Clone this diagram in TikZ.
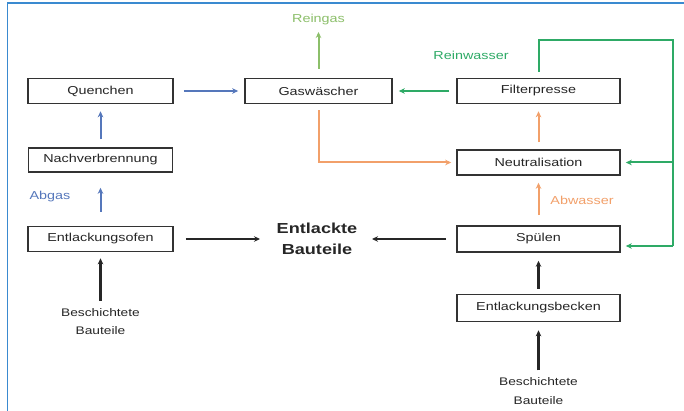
\documentclass[tikz,border=0pt]{standalone}
\usepackage{fontspec}
\setmainfont{Liberation Sans}
\newfontfamily\widesans[FakeStretch=1.25]{Liberation Sans}
\usetikzlibrary{arrows.meta}
\definecolor{frameblue}{HTML}{3A8AD0}
\definecolor{gasblue}{HTML}{5577BB}
\definecolor{wgreen}{HTML}{2EAA66}
\definecolor{rgreen}{HTML}{8CBF6A}
\definecolor{worange}{HTML}{F2A06A}
\definecolor{boxgray}{HTML}{333333}
\tikzset{
  procbox/.style={draw=boxgray, line width=1.6pt, fill=white, inner sep=0pt, font=\widesans\fontsize{11.5}{13}\selectfont, text=black!85},
  flow/.style={line width=2pt, -{Stealth[length=6pt,width=5.5pt]}},
  blk/.style={flow, black!85, line width=2.4pt},
  lbl/.style={font=\widesans\fontsize{11.5}{13}\selectfont, inner sep=0pt},
}
\begin{document}
\begin{tikzpicture}[x=1pt,y=-1pt]
\useasboundingbox (0,0) rectangle (684,411);
\fill[white] (0,0) rectangle (684,411);
\draw[frameblue, line width=1.6pt] (7.5,411) -- (7.5,3) -- (684,3);

% boxes
\node[procbox, minimum width=145pt, minimum height=25pt] (Q) at (100.5,91) {Quenchen};
\node[procbox, minimum width=144pt, minimum height=24pt] (N) at (100.5,160) {Nachverbrennung};
\node[procbox, minimum width=145pt, minimum height=25pt] (O) at (100.5,239) {Entlackungsofen};
\node[procbox, minimum width=147pt, minimum height=25pt] (G) at (318.5,91) {Gaswäscher};
\node[procbox, minimum width=163pt, minimum height=25pt] (F) at (538.5,91) {Filterpresse};
\node[procbox, minimum width=163pt, minimum height=25pt] (Ne) at (538.5,162.5) {Neutralisation};
\node[procbox, minimum width=163pt, minimum height=26pt] (S) at (538.5,239) {Spülen};
\node[procbox, minimum width=163pt, minimum height=27pt] (B) at (538.5,308) {Entlackungsbecken};

\node[align=center, font=\bfseries\widesans\fontsize{14.5}{21}\selectfont, text=black!85, inner sep=0pt] (E) at (317,238.5) {Entlackte\\Bauteile};
\node[lbl, align=center, text=black!85, font=\widesans\fontsize{11}{18}\selectfont] (BL) at (100.5,322) {Beschichtete\\Bauteile};
\node[lbl, align=center, text=black!85, font=\widesans\fontsize{11}{19}\selectfont] (BR) at (538.5,391) {Beschichtete\\Bauteile};

\node[lbl, text=rgreen] (RG) at (318.5,20) {Reingas};
\node[lbl, text=wgreen] (RW) at (471,55) {Reinwasser};
\node[lbl, text=gasblue] (AG) at (50,197) {Abgas};
\node[lbl, text=worange] (AW) at (582,200) {Abwasser};

% blue gas path
\draw[flow, gasblue, shorten <=8pt, shorten >=7pt] (N.north) -- (Q.south);
\draw[flow, gasblue, shorten <=14pt, shorten >=15pt] (O.north) -- (N.south);
\draw[flow, gasblue, shorten <=10pt, shorten >=6pt] (Q.east) -- (G.west);

% reingas
\draw[flow, rgreen, shorten <=9pt] (G.north) -- (318.5,32);

% green water
\coordinate (c1) at (538.5,40);
\coordinate (c2) at (673,40);
\coordinate (c3) at (673,246);
\draw[wgreen, line width=2pt, shorten <=6pt] (F.north) -- (c1) -- (c2) -- (c3);
\draw[flow, wgreen, shorten >=5pt] (c3) -- (S.east |- c3);
\draw[flow, wgreen, shorten >=5pt] (c2 |- Ne.east) -- (Ne.east);
\draw[flow, wgreen, shorten <=7pt, shorten >=6pt] (F.west) -- (G.east);

% orange
\coordinate (o1) at (318.5,162.5);
\draw[flow, worange, shorten <=6pt, shorten >=5pt] (G.south) -- (o1) -- (Ne.west);
\draw[flow, worange, shorten <=7pt, shorten >=7pt] (Ne.north) -- (F.south);
\draw[flow, worange, shorten <=10pt, shorten >=7pt] (S.north) -- (Ne.south);

% black
\coordinate (e1) at (260,239);
\coordinate (e2) at (372,239);
\draw[blk, shorten <=12pt] (O.east) -- (e1);
\draw[blk, shorten <=10pt] (S.west) -- (e2);
\draw[blk, shorten <=8pt, shorten >=6pt] (BL.north) -- (O.south);
\draw[blk, shorten <=5pt, shorten >=8pt] (B.north) -- (S.south);
\draw[blk, shorten <=7pt, shorten >=8pt] (BR.north) -- (B.south);
\end{tikzpicture}
\end{document}
